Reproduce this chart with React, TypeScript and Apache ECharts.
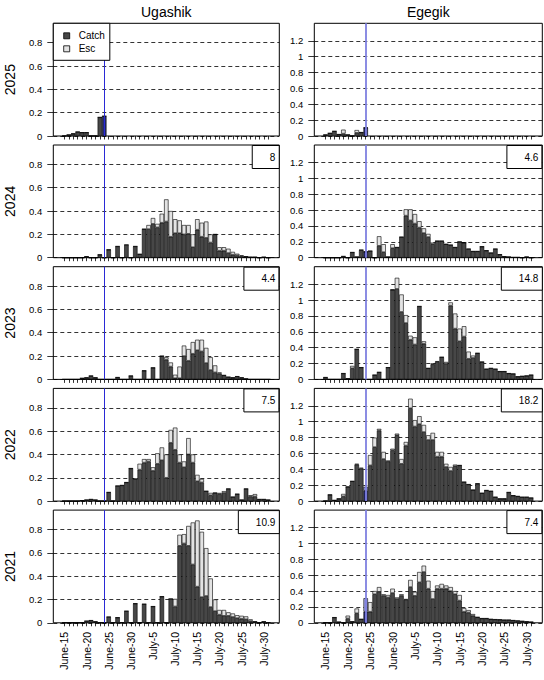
import { useEffect, useRef } from "react";
import * as echarts from "echarts";

// ---------- categories ----------
const days: string[] = [
  "June-13", "June-14", "June-15", "June-16", "June-17", "June-18", "June-19", "June-20",
  "June-21", "June-22", "June-23", "June-24", "June-25", "June-26", "June-27", "June-28",
  "June-29", "June-30", "July-1", "July-2", "July-3", "July-4", "July-5", "July-6",
  "July-7", "July-8", "July-9", "July-10", "July-11", "July-12", "July-13", "July-14",
  "July-15", "July-16", "July-17", "July-18", "July-19", "July-20", "July-21", "July-22",
  "July-23", "July-24", "July-25", "July-26", "July-27", "July-28", "July-29", "July-30",
  "July-31", "Aug-1", "Aug-2",
];
// data arrays below start at this day and run to July-31
const firstDataDay = "June-15";
const lastDataDay = "July-31";
const tickLabels = [
  "June-15", "June-20", "June-25", "June-30", "July-5",
  "July-10", "July-15", "July-20", "July-25", "July-30",
];
const today = "June-24";
const years = ["2025", "2024", "2023", "2022", "2021"];
const districts = ["Ugashik", "Egegik"];
const ugashikTotals = [null, "8", "4.4", "7.5", "10.9"];
const egegikTotals = [null, "4.6", "14.8", "18.2", "7.4"];
const ugashikYTicks = [0, 0.2, 0.4, 0.6, 0.8];
const egegikYTicks = [0, 0.2, 0.4, 0.6, 0.8, 1, 1.2];

// ---------- series values (June-15 .. July-31) ----------
const ugashik2025Catch = [0, 0.01, 0.02, 0.035, 0.03, 0.03, 0, 0, 0.16, 0.17];
const ugashik2025Esc = [0, 0, 0, 0, 0, 0, 0, 0, 0, 0];
const egegik2025Catch = [0.015, 0.035, 0.06, 0.02, 0.03, 0.015, 0, 0.04, 0.045, 0.105];
const egegik2025Esc = [0, 0, 0, 0, 0.05, 0, 0, 0.035, 0, 0];

const ugashik2024Catch = [
  0, 0, 0, 0, 0, 0.01, 0, 0, 0.026, 0,
  0.069, 0, 0.097, 0, 0.11, 0, 0.097, 0.03, 0.245, 0.245,
  0.29, 0.26, 0.3, 0.31, 0.18, 0.21, 0.21, 0.2, 0.205, 0.09,
  0.24, 0.18, 0.17, 0.13, 0.2, 0.06, 0.06, 0.04, 0.026, 0.02,
  0.014, 0.01, 0.005, 0.005, 0, 0.005, 0,
];
const ugashik2024Esc = [
  0, 0, 0, 0, 0, 0, 0, 0, 0, 0,
  0, 0, 0, 0, 0, 0, 0, 0, 0, 0.035,
  0.05, 0.03, 0.077, 0.19, 0.22, 0.12, 0.11, 0.08, 0.075, 0.11,
  0.09, 0.12, 0.14, 0.07, 0, 0.03, 0.03, 0.037, 0.024, 0.014,
  0.006, 0, 0, 0, 0, 0, 0,
];
const egegik2024Catch = [
  0, 0, 0, 0, 0.017, 0, 0.067, 0.01, 0.097, 0.076,
  0.084, 0, 0.15, 0.07, 0.01, 0.12, 0.13, 0.26, 0.53, 0.47,
  0.43, 0.38, 0.31, 0.26, 0.17, 0.21, 0.21, 0.17, 0.16, 0.13,
  0.2, 0.19, 0.11, 0.08, 0.08, 0.14, 0.09, 0.06, 0.11, 0.04,
  0.015, 0.01, 0.005, 0.005, 0, 0.01, 0,
];
const egegik2024Esc = [
  0, 0, 0, 0, 0, 0, 0, 0, 0, 0,
  0, 0, 0.12, 0.1, 0, 0.05, 0, 0, 0.08, 0.14,
  0.12, 0.08, 0.06, 0.04, 0.02, 0, 0, 0, 0, 0,
  0, 0, 0, 0, 0, 0, 0, 0, 0, 0,
  0, 0, 0, 0, 0, 0, 0,
];

const ugashik2023Catch = [
  0, 0, 0, 0, 0.01, 0.015, 0.03, 0.015, 0, 0,
  0, 0, 0.017, 0, 0, 0.03, 0, 0, 0.075, 0,
  0.1, 0, 0.2, 0.17, 0.11, 0.01, 0.01, 0.2, 0.16, 0.22,
  0.25, 0.24, 0.14, 0.08, 0.06, 0.05, 0.035, 0.02, 0.015, 0.025,
  0.015, 0.005, 0, 0, 0, 0, 0,
];
const ugashik2023Esc = [
  0, 0, 0, 0, 0, 0, 0, 0, 0, 0,
  0, 0, 0, 0, 0, 0, 0, 0, 0, 0,
  0, 0, 0, 0.02, 0.035, 0.03, 0.1, 0.09, 0.1, 0.1,
  0.09, 0.1, 0.13, 0.11, 0.06, 0.01, 0, 0, 0, 0,
  0, 0, 0, 0, 0, 0, 0,
];
const egegik2023Catch = [
  0.025, 0, 0, 0, 0.075, 0.01, 0.14, 0.38, 0.15, 0,
  0, 0.055, 0.09, 0, 0.15, 1.13, 1.14, 0.85, 0.71, 0.5,
  0.44, 0.92, 0.45, 0.14, 0.19, 0.22, 0.28, 0.2, 0.93, 0.64,
  0.48, 0.54, 0.26, 0.27, 0.33, 0.22, 0.13, 0.14, 0.13, 0.1,
  0.1, 0.075, 0.07, 0.035, 0.04, 0.045, 0.055,
];
const egegik2023Esc = [
  0, 0, 0, 0, 0, 0, 0.03, 0, 0, 0,
  0, 0, 0, 0, 0, 0, 0.14, 0.22, 0.1, 0.05,
  0.09, 0, 0.03, 0, 0.01, 0.01, 0, 0.02, 0.04, 0.19,
  0.16, 0.13, 0.09, 0.03, 0, 0, 0, 0, 0, 0,
  0, 0, 0, 0, 0, 0, 0,
];

const ugashik2022Catch = [
  0, 0, 0, 0, 0.005, 0.01, 0.015, 0.01, 0, 0,
  0.075, 0, 0.13, 0.135, 0.16, 0.28, 0.19, 0.27, 0.33, 0.34,
  0.26, 0.32, 0.35, 0.2, 0.5, 0.44, 0.33, 0.29, 0.4, 0.33,
  0.17, 0.16, 0.085, 0.05, 0.07, 0.06, 0.07, 0.105, 0.035, 0.06,
  0.01, 0.105, 0.04, 0.04, 0.015, 0.015, 0.01,
];
const ugashik2022Esc = [
  0, 0, 0, 0, 0, 0, 0, 0, 0, 0,
  0, 0, 0, 0, 0, 0, 0, 0.05, 0.03, 0.02,
  0.03, 0.09, 0.11, 0.2, 0.11, 0.19, 0.07, 0.05, 0.14, 0.07,
  0.055, 0.03, 0, 0.02, 0, 0.01, 0.015, 0, 0, 0,
  0, 0, 0.01, 0.02, 0, 0, 0,
];
const egegik2022Catch = [
  0, 0.08, 0.01, 0.03, 0.06, 0.18, 0.25, 0.46, 0.41, 0.13,
  0.45, 0.68, 0.89, 0.53, 0.5, 0.64, 0.83, 0.47, 0.7, 1.17,
  0.94, 0.97, 0.87, 0.77, 0.77, 0.56, 0.56, 0.43, 0.38, 0.44,
  0.45, 0.24, 0.21, 0.14, 0.22, 0.1, 0.135, 0.125, 0.05, 0.03,
  0.03, 0.11, 0.07, 0.06, 0.05, 0.05, 0.04,
];
const egegik2022Esc = [
  0, 0, 0, 0, 0.03, 0, 0, 0.01, 0.01, 0.05,
  0.13, 0.12, 0.02, 0.09, 0.01, 0.02, 0.02, 0.06, 0.045, 0.12,
  0.08, 0.1, 0.09, 0.06, 0.09, 0.06, 0.06, 0.04, 0.05, 0.02,
  0, 0, 0, 0, 0, 0, 0, 0, 0, 0,
  0, 0, 0, 0, 0, 0, 0,
];

const ugashik2021Catch = [
  0, 0, 0, 0, 0, 0.015, 0.02, 0.01, 0, 0,
  0.05, 0, 0.045, 0, 0.1, 0, 0.165, 0, 0.16, 0,
  0.14, 0, 0.225, 0, 0.205, 0.14, 0.66, 0.68, 0.66, 0.5,
  0.31, 0.22, 0.23, 0.135, 0.1, 0.07, 0.06, 0.06, 0.05, 0.04,
  0.035, 0.03, 0.015, 0.01, 0, 0.01, 0,
];
const ugashik2021Esc = [
  0, 0, 0, 0, 0, 0, 0, 0, 0, 0,
  0, 0, 0, 0, 0, 0, 0, 0, 0, 0,
  0, 0, 0, 0, 0, 0.065, 0.095, 0.08, 0.17, 0.36,
  0.567, 0.56, 0.41, 0.245, 0.1, 0.04, 0.05, 0.03, 0.03, 0.025,
  0.025, 0.025, 0.015, 0, 0, 0, 0,
];
const egegik2021Catch = [
  0, 0, 0.067, 0.01, 0, 0.055, 0.015, 0.12, 0.045, 0.14,
  0.14, 0.36, 0.39, 0.34, 0.32, 0.375, 0.3, 0.34, 0.29, 0.45,
  0.34, 0.51, 0.64, 0.43, 0.3, 0.43, 0.43, 0.43, 0.4, 0.36,
  0.28, 0.14, 0.13, 0.09, 0.07, 0.055, 0.055, 0.045, 0.042, 0.04,
  0.035, 0.035, 0.03, 0.025, 0.02, 0.015, 0.01,
];
const egegik2021Esc = [
  0, 0, 0, 0, 0, 0.035, 0, 0.06, 0, 0.17,
  0.12, 0.04, 0.06, 0.02, 0.03, 0.055, 0.02, 0.02, 0.01, 0.09,
  0.05, 0.13, 0.08, 0.1, 0.1, 0.04, 0.06, 0.04, 0.05, 0.04,
  0.07, 0.045, 0.03, 0.02, 0, 0, 0, 0, 0, 0,
  0, 0, 0, 0, 0, 0, 0,
];

// rows (years) x columns (districts)
const catchRows = [
  [ugashik2025Catch, egegik2025Catch],
  [ugashik2024Catch, egegik2024Catch],
  [ugashik2023Catch, egegik2023Catch],
  [ugashik2022Catch, egegik2022Catch],
  [ugashik2021Catch, egegik2021Catch],
];
const escRows = [
  [ugashik2025Esc, egegik2025Esc],
  [ugashik2024Esc, egegik2024Esc],
  [ugashik2023Esc, egegik2023Esc],
  [ugashik2022Esc, egegik2022Esc],
  [ugashik2021Esc, egegik2021Esc],
];

// ---------- styling / layout ----------
const FONT = "'Liberation Sans', Arial, Helvetica, sans-serif";
const W = 544;
const COLS = [
  { left: 53.3, width: 226 },
  { left: 314.3, width: 228 },
];
const ROW_TOP = 23.3;
const ROW_STEP = 121.7;
const ROW_H = 112.7;
const YMAX = [0.966, 1.42];
const CATCH_COLOR = "#474747";
const ESC_COLOR = "#e3e3e3";
const TODAY_CATCH = "#262a73";
const TODAY_ESC = "#9ea2e3";
const LINE_STYLES = [
  { color: "#2a2ad6", width: 1 },
  { color: "#7f80e0", width: 1.8 },
];

function toCategorySeries(values: number[], color: string) {
  const start = days.indexOf(firstDataDay);
  const end = days.indexOf(lastDataDay);
  return days.map((day, i) => {
    if (i < start || i > end) return null;
    const v = values[i - start];
    if (v === undefined || v === null) return null;
    if (day === today) return { value: v, itemStyle: { color } };
    return v;
  });
}

function buildOption() {
  const grid: any[] = [];
  const xAxis: any[] = [];
  const yAxis: any[] = [];
  const series: any[] = [];
  const title: any[] = [];
  const graphic: any[] = [];
  const start = days.indexOf(firstDataDay);
  const end = days.indexOf(lastDataDay);
  const totals = [ugashikTotals, egegikTotals];
  const yTicks = [ugashikYTicks, egegikYTicks];

  years.forEach((year, r) => {
    const top = ROW_TOP + r * ROW_STEP;
    graphic.push({
      type: "text",
      x: 10,
      y: top + ROW_H / 2,
      rotation: Math.PI / 2,
      style: {
        text: year,
        textAlign: "center",
        textVerticalAlign: "middle",
        font: `14px ${FONT}`,
        fill: "#000",
      },
    });
    COLS.forEach((col, c) => {
      const i = r * 2 + c;
      grid.push({
        left: col.left,
        top,
        width: col.width,
        height: ROW_H,
        show: true,
        borderColor: "#000",
        borderWidth: 1,
        backgroundColor: "transparent",
        containLabel: false,
        outerBoundsMode: "none",
      });
      xAxis.push({
        gridIndex: i,
        type: "category",
        data: days,
        boundaryGap: true,
        axisLine: { show: false },
        axisTick: {
          show: true,
          alignWithLabel: true,
          length: 3.5,
          interval: (idx: number) => idx >= start && idx <= end,
          lineStyle: { color: "#000", width: 0.8 },
        },
        axisLabel: {
          show: r === years.length - 1,
          interval: (_idx: number, val: string) => tickLabels.includes(val),
          rotate: 90,
          margin: 9,
          fontSize: 10.5,
          fontFamily: FONT,
          color: "#000",
        },
        splitLine: { show: false },
      });
      yAxis.push({
        gridIndex: i,
        type: "value",
        min: 0,
        max: YMAX[c],
        interval: 0.2,
        axisLine: { show: false },
        axisTick: {
          show: true,
          length: 6,
          customValues: yTicks[c],
          lineStyle: { color: "#000", width: 0.8 },
        },
        axisLabel: {
          customValues: yTicks[c],
          margin: 11,
          fontSize: 9.5,
          fontFamily: FONT,
          color: "#000",
          formatter: (v: number) =>
            Math.abs(v * 5 - Math.round(v * 5)) < 1e-6 ? String(Math.round(v * 10) / 10) : "",
        },
        splitLine: {
          show: true,
          lineStyle: { color: "#000", width: 0.8, type: [4, 3] },
        },
      });
      series.push({
        type: "bar",
        name: "Catch",
        xAxisIndex: i,
        yAxisIndex: i,
        stack: "s" + i,
        barCategoryGap: "0%",
        data: toCategorySeries(catchRows[r][c], TODAY_CATCH),
        itemStyle: { color: CATCH_COLOR, borderColor: "#000", borderWidth: 0.6 },
        emphasis: { disabled: true },
      });
      series.push({
        type: "bar",
        name: "Esc",
        xAxisIndex: i,
        yAxisIndex: i,
        stack: "s" + i,
        barCategoryGap: "0%",
        data: toCategorySeries(escRows[r][c], TODAY_ESC),
        itemStyle: { color: ESC_COLOR, borderColor: "#000", borderWidth: 0.6 },
        emphasis: { disabled: true },
        markLine: {
          silent: true,
          symbol: ["none", "none"],
          label: { show: false },
          lineStyle: { color: LINE_STYLES[c].color, width: LINE_STYLES[c].width, type: "solid", opacity: 1 },
          emphasis: { disabled: true },
          data: [
            {
              xAxis: today,
              lineStyle: { color: LINE_STYLES[c].color, width: LINE_STYLES[c].width, type: "solid", opacity: 1 },
            },
          ],
        },
      });
      const t = totals[c][r];
      if (t !== null) {
        title.push({
          text: t,
          right: W - (col.left + col.width),
          top,
          padding: [6, 4, 6, 18],
          borderColor: "#000",
          borderWidth: 1,
          backgroundColor: "#fff",
          textStyle: {
            fontSize: 10,
            fontWeight: "normal",
            color: "#000",
            fontFamily: FONT,
            lineHeight: 12,
          },
        });
      }
    });
  });

  districts.forEach((d, c) => {
    graphic.push({
      type: "text",
      x: COLS[c].left + COLS[c].width / 2,
      y: 11.5,
      style: {
        text: d,
        textAlign: "center",
        textVerticalAlign: "middle",
        font: `14px ${FONT}`,
        fill: "#000",
      },
    });
  });

  return {
    animation: false,
    backgroundColor: "#fff",
    textStyle: { fontFamily: FONT },
    grid,
    xAxis,
    yAxis,
    series,
    title,
    graphic,
    tooltip: { show: false },
    legend: {
      data: ["Catch", "Esc"],
      orient: "vertical",
      left: COLS[0].left,
      top: ROW_TOP,
      padding: [6.5, 5, 5.5, 10],
      itemGap: 1,
      itemWidth: 6,
      itemHeight: 6,
      icon: "rect",
      selectedMode: false,
      backgroundColor: "#fff",
      borderColor: "#000",
      borderWidth: 1,
      itemStyle: { borderColor: "#000", borderWidth: 0.8 },
      textStyle: {
        fontSize: 10,
        color: "#000",
        fontFamily: FONT,
        lineHeight: 12,
        padding: [0, 0, 0, 4],
      },
      z: 10,
    },
  };
}

export default function App() {
  const ref = useRef<HTMLDivElement>(null);
  useEffect(() => {
    if (!ref.current) return;
    const chart = echarts.init(ref.current, null, { renderer: "svg" });
    chart.setOption(buildOption() as any);
    return () => chart.dispose();
  }, []);
  return (
    <div
      ref={ref}
      style={{ position: "absolute", left: 0, top: 0, width: 544, height: 680, background: "#fff" }}
    />
  );
}
